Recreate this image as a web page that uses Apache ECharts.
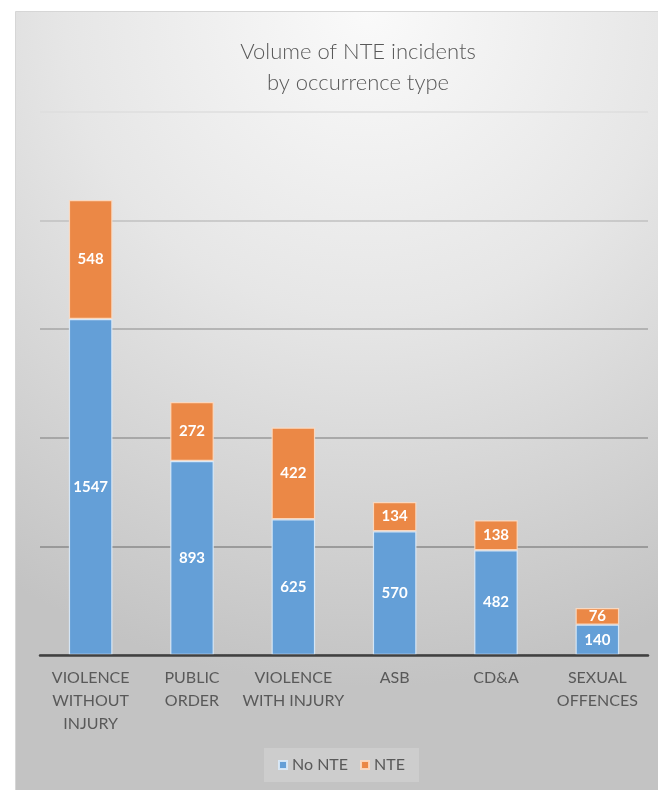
<!DOCTYPE html>
<html>
<head>
<meta charset="utf-8">
<script src="https://cdn.jsdelivr.net/npm/echarts@6/dist/echarts.min.js"></script>
<style>
html,body{margin:0;padding:0;background:#fff;}
#main{width:658px;height:790px;}
</style>
</head>
<body>
<div id="main"></div>
<script>
const categories = ['VIOLENCE\nWITHOUT\nINJURY', 'PUBLIC\nORDER', 'VIOLENCE\nWITH INJURY', 'ASB', 'CD&A', 'SEXUAL\nOFFENCES'];
const noNTE = [1547, 893, 625, 570, 482, 140];
const nte = [548, 272, 422, 134, 138, 76];
const titleText = 'Volume of NTE incidents\nby occurrence type';

const chart = echarts.init(document.getElementById('main'));
const font = 'Lato, "Open Sans", sans-serif';
const option = {
  animation: false,
  backgroundColor: '#ffffff',
  graphic: [{
    type: 'rect',
    z: -10,
    silent: true,
    shape: {x: 15.5, y: 11.5, width: 643, height: 779},
    style: {
      fill: new echarts.graphic.RadialGradient(0.55, 0.0, 1.05, [
        {offset: 0, color: '#fafafa'},
        {offset: 0.45, color: '#e6e6e6'},
        {offset: 1, color: '#c3c3c3'}
      ]),
      stroke: '#d6d6d6',
      lineWidth: 1
    }
  }],
  title: {
    text: titleText,
    left: 353,
    textAlign: 'center',
    top: 31,
    textStyle: {
      fontFamily: font,
      fontSize: 22,
      fontWeight: 300,
      color: '#595959',
      lineHeight: 31
    }
  },
  legend: {
    bottom: 8,
    left: 264,
    itemWidth: 8,
    itemHeight: 8,
    itemGap: 12,
    icon: 'rect',
    padding: [9, 14],
    backgroundColor: 'rgba(255,255,255,0.18)',
    textStyle: {fontFamily: font, fontSize: 16, color: '#595959'},
    data: ['No NTE', 'NTE']
  },
  grid: {left: 40, right: 10, top: 112, bottom: 135, containLabel: false},
  xAxis: {
    type: 'category',
    data: categories,
    axisLine: {lineStyle: {color: '#404040', width: 2.5}},
    axisTick: {show: false},
    axisLabel: {
      interval: 0,
      margin: 11,
      fontFamily: font,
      fontSize: 16,
      lineHeight: 23,
      color: '#595959'
    },
    z: 10
  },
  yAxis: {
    type: 'value',
    min: 0,
    max: 2500,
    interval: 500,
    axisLabel: {show: false},
    axisLine: {show: false},
    axisTick: {show: false},
    splitLine: {lineStyle: {color: ['#888888', '#8a8a8a', '#989898', '#a6a6a6', '#c0c0c0', '#dedede'], width: 1.5}}
  },
  series: [
    {
      name: 'No NTE',
      type: 'bar',
      stack: 'total',
      barWidth: '43%',
      data: noNTE,
      itemStyle: {color: '#649fd7', borderColor: 'rgba(220,235,250,0.9)', borderWidth: 1.2},
      label: {show: true, position: 'inside', color: '#ffffff', fontFamily: font, fontWeight: 'bold', fontSize: 15}
    },
    {
      name: 'NTE',
      type: 'bar',
      stack: 'total',
      barWidth: '43%',
      data: nte,
      itemStyle: {color: '#eb8846', borderColor: 'rgba(252,220,195,0.9)', borderWidth: 1.2},
      label: {show: true, position: 'inside', color: '#ffffff', fontFamily: font, fontWeight: 'bold', fontSize: 15}
    }
  ]
};
chart.setOption(option);
</script>
</body>
</html>
